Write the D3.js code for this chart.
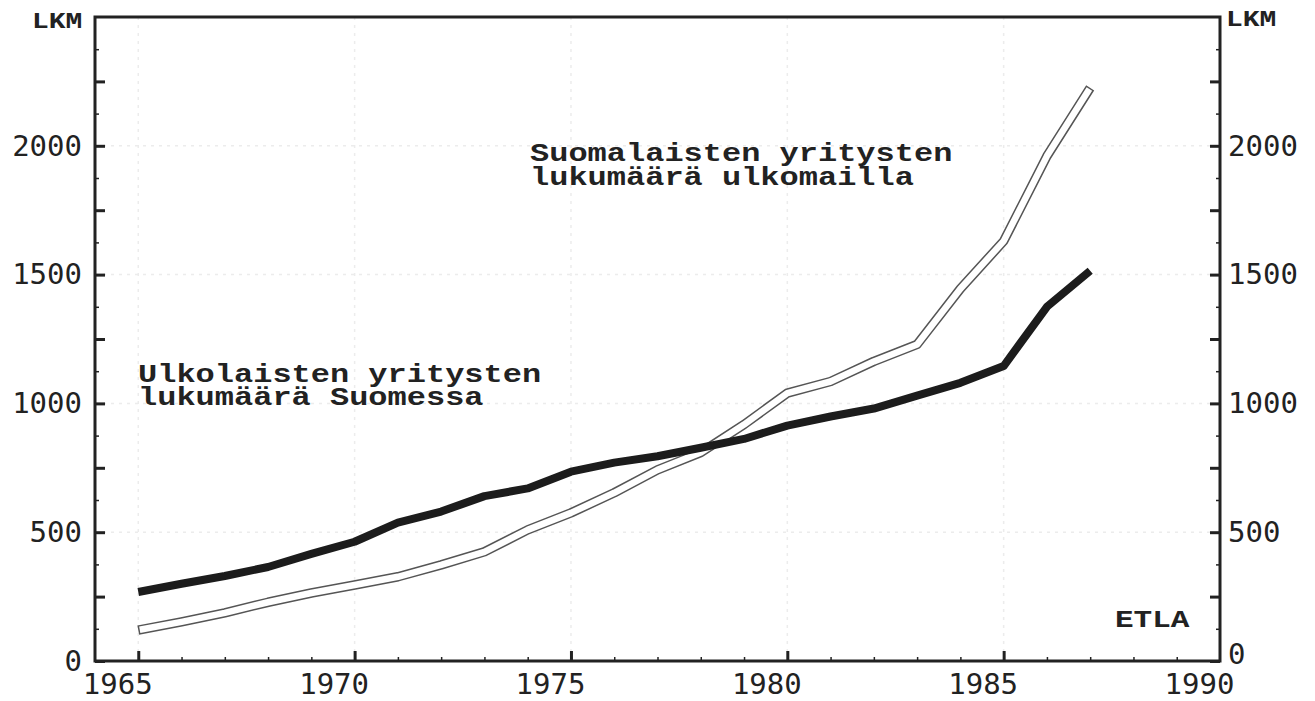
<!DOCTYPE html>
<html>
<head>
<meta charset="utf-8">
<title>Yritysten lukumäärä</title>
<style>
  body { margin: 0; background: #fff; }
  .tick text { font-family: "DejaVu Sans Mono", "Liberation Mono", monospace; font-size: 29px; fill: #222; }
  .note { font-family: "Liberation Mono", "DejaVu Sans Mono", monospace; font-weight: bold; fill: #222; }
</style>
</head>
<body>
<div id="chart"></div>
<script src="https://cdnjs.cloudflare.com/ajax/libs/d3/7.8.5/d3.min.js"></script>
<script>

var years = [1965, 1966, 1967, 1968, 1969, 1970, 1971, 1972, 1973, 1974, 1975, 1976,
             1977, 1978, 1979, 1980, 1981, 1982, 1983, 1984, 1985, 1986, 1987];
// foreign companies in Finland (black line)
var ulkolaiset = [268, 300, 330, 365, 416, 463, 537, 580, 640, 670, 735, 770,
                  795, 828, 862, 914, 949, 980, 1030, 1080, 1145, 1375, 1515];
// Finnish companies abroad (hollow line)
var suomalaiset = [120, 152, 187, 228, 264, 295, 327, 373, 424, 509, 575, 653,
                   742, 809, 918, 1040, 1085, 1163, 1229, 1445, 1630, 1960, 2225];
var xLabels = [1965, 1970, 1975, 1980, 1985, 1990];
var yLabels = [0, 500, 1000, 1500, 2000];

var width = 1315, height = 701;
var pLeft = 95, pRight = 1220, pTop = 17, pBottom = 661;

var x = d3.scaleLinear().domain([1964, 1990]).range([pLeft, pRight]);
var y = d3.scaleLinear().domain([0, 2500]).range([pBottom, pTop]);

var svg = d3.select('#chart').append('svg')
  .attr('width', width)
  .attr('height', height);

// faint grid
svg.append('g').selectAll('line')
  .data(yLabels.slice(1))
  .enter().append('line')
    .attr('x1', pLeft).attr('x2', pRight)
    .attr('y1', function(d) { return y(d); })
    .attr('y2', function(d) { return y(d); })
    .attr('stroke', '#ececec').attr('stroke-width', 1.5)
    .attr('stroke-dasharray', '3 5');
svg.append('g').selectAll('line')
  .data(xLabels.slice(0, -1))
  .enter().append('line')
    .attr('y1', pTop).attr('y2', pBottom)
    .attr('x1', function(d) { return x(d); })
    .attr('x2', function(d) { return x(d); })
    .attr('stroke', '#ececec').attr('stroke-width', 1.5)
    .attr('stroke-dasharray', '3 5');

function clean(g) {
  g.select('.domain').remove();
  g.selectAll('.tick line').attr('stroke', '#222');
}

// x axis: minor, major, labels
svg.append('g')
  .attr('transform', 'translate(0,' + pBottom + ')')
  .call(d3.axisBottom(x).tickValues(d3.range(1965, 1990)).tickSize(-4).tickFormat(''))
  .call(clean)
  .selectAll('.tick line').attr('stroke-width', 1.5);

var xAxis = svg.append('g')
  .attr('transform', 'translate(0,' + pBottom + ')')
  .call(d3.axisBottom(x).tickValues(xLabels).tickSize(-10).tickPadding(12).tickFormat(d3.format('d')))
  .call(clean);
xAxis.selectAll('.tick line').attr('stroke-width', 3)
  .filter(function(d) { return d === 1990; }).remove();
xAxis.selectAll('.tick text').attr('x', -21);

// y axes
var yMinor = d3.range(125, 2500, 250);
var yMajor = d3.range(0, 2500, 250);
function yFmt(d) { return yLabels.indexOf(d) >= 0 ? d : ''; }

svg.append('g')
  .attr('transform', 'translate(' + pLeft + ',0)')
  .call(d3.axisLeft(y).tickValues(yMinor).tickSize(-4).tickFormat(''))
  .call(clean)
  .selectAll('.tick line').attr('stroke-width', 1.5);
svg.append('g')
  .attr('transform', 'translate(' + pLeft + ',0)')
  .call(d3.axisLeft(y).tickValues(yMajor).tickSize(-10).tickPadding(13).tickFormat(yFmt))
  .call(clean)
  .selectAll('.tick line').attr('stroke-width', 3);

svg.append('g')
  .attr('transform', 'translate(' + pRight + ',0)')
  .call(d3.axisRight(y).tickValues(yMinor).tickSize(-4).tickFormat(''))
  .call(clean)
  .selectAll('.tick line').attr('stroke-width', 1.5);
var yRight = svg.append('g')
  .attr('transform', 'translate(' + pRight + ',0)')
  .call(d3.axisRight(y).tickValues(yMajor).tickSize(-10).tickPadding(8).tickFormat(yFmt))
  .call(clean);
yRight.selectAll('.tick line').attr('stroke-width', 3);
// the right-hand zero sits a little higher, clear of the 1990 label
yRight.selectAll('.tick text').filter(function(d) { return d === 0; }).attr('y', -7);

// frame
svg.append('path')
  .attr('d', 'M' + pLeft + ',' + pTop + 'H' + pRight + 'V' + pBottom + 'H' + pLeft + 'Z')
  .attr('fill', 'none')
  .attr('stroke', '#222')
  .attr('stroke-width', 3);

// lines
var line = d3.line()
  .x(function(d, i) { return x(years[i]); })
  .y(function(d) { return y(d); });

svg.append('path')
  .attr('d', line(suomalaiset))
  .attr('fill', 'none')
  .attr('stroke', '#555')
  .attr('stroke-width', 9.5)
  .attr('stroke-linejoin', 'round');
var inner = svg.append('path')
  .attr('d', line(suomalaiset))
  .attr('fill', 'none')
  .attr('stroke', '#fff')
  .attr('stroke-width', 6.5)
  .attr('stroke-linejoin', 'round');
var L = inner.node().getTotalLength();
inner.attr('stroke-dasharray', (L - 3) + ' ' + L).attr('stroke-dashoffset', -1.5);

svg.append('path')
  .attr('d', line(ulkolaiset))
  .attr('fill', 'none')
  .attr('stroke', '#1c1c1c')
  .attr('stroke-width', 8)
  .attr('stroke-linejoin', 'round');

// texts
function note(tx, ty, str, size, sy) {
  svg.append('text')
    .attr('class', 'note')
    .attr('transform', 'translate(' + tx + ',' + ty + ') scale(1,' + sy + ')')
    .attr('font-size', size)
    .text(str);
}
note(138, 382, 'Ulkolaisten yritysten', 32, 0.78);
note(138, 405, 'lukumäärä Suomessa', 32, 0.78);
note(530, 161, 'Suomalaisten yritysten', 32, 0.78);
note(530, 185, 'lukumäärä ulkomailla', 32, 0.78);
note(1115, 627, 'ETLA', 31, 0.75);
note(32, 28, 'LKM', 28, 0.8);
note(1226, 26, 'LKM', 28, 0.8);

</script>
</body>
</html>
